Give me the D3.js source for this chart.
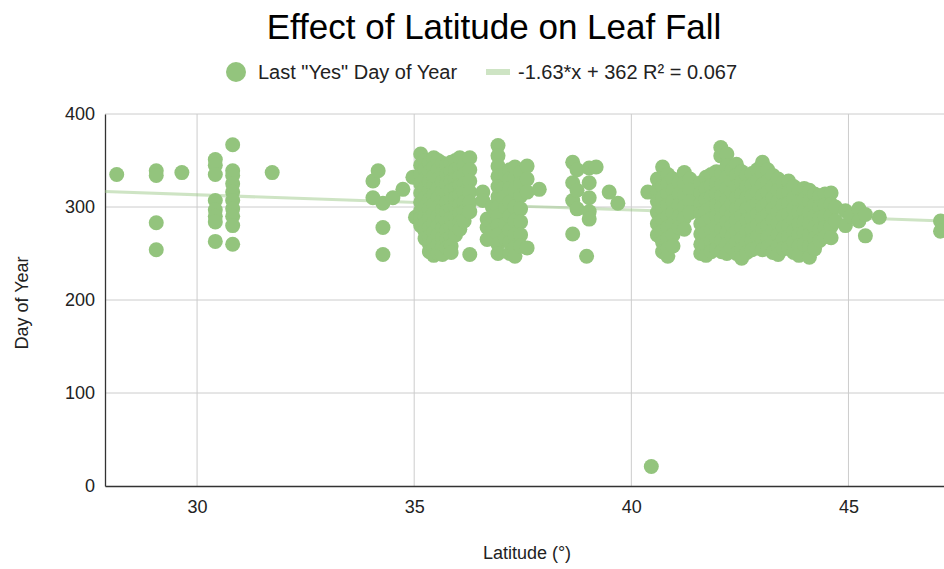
<!DOCTYPE html>
<html>
<head>
<meta charset="utf-8">
<script src="https://cdn.jsdelivr.net/npm/d3@7"></script>
<style>
  body { margin: 0; background: #fff; }
  svg { display: block; font-family: "Liberation Sans", Arial, sans-serif; }
</style>
</head>
<body>
<div id="chart"></div>
<script>
// each site: one latitude, several "last yes" days
const siteLat = [
  28.15, 29.06, 29.65, 30.42, 30.82, 31.73,
  34.05, 34.17, 34.28, 34.51, 34.74, 34.97, 35.03,
  35.15, 35.25, 35.35, 35.45, 35.55, 35.65, 35.75, 35.85, 35.95, 36.05, 36.15, 36.28,
  36.58, 36.68, 36.8, 36.93, 37.05, 37.1, 37.2, 37.32, 37.45, 37.6, 37.88,
  38.65, 38.75, 38.97, 39.03, 39.19, 39.49, 39.69,
  40.38, 40.46, 40.6, 40.72, 40.84, 40.96, 41.1, 41.22, 41.35,
  41.6, 41.72, 41.84, 41.96, 42.06, 42.08, 42.2, 42.32, 42.42, 42.54, 42.66, 42.78, 42.9,
  43.02, 43.14, 43.26, 43.38, 43.5, 43.62, 43.74, 43.86, 43.98, 44.1, 44.22, 44.34, 44.46, 44.6, 44.7,
  44.93, 45.05, 45.24, 45.39, 45.71, 47.12
]
const siteDays = [
  [335], [339, 334, 283, 254], [337], [351, 345, 335, 307, 297, 290, 284, 263],
  [367, 339, 334, 325, 316, 307, 298, 290, 280, 260], [337],
  [328, 310], [339], [304, 278, 249], [310], [319], [332], [289],
  [357, 345, 335, 325, 315, 305, 296, 288, 280],
  [350, 340, 330, 320, 310, 300, 290, 282, 274, 266],
  [348, 338, 328, 318, 308, 298, 288, 278, 268, 260, 252],
  [353, 343, 333, 323, 313, 303, 293, 283, 273, 263, 255, 248],
  [350, 340, 330, 320, 310, 300, 290, 280, 270, 260, 250],
  [347, 337, 327, 317, 307, 297, 287, 277, 267, 257, 249],
  [345, 335, 325, 315, 305, 295, 285, 275, 265, 256],
  [348, 338, 328, 318, 308, 298, 288, 278, 268, 258, 251],
  [350, 340, 330, 320, 310, 300, 290, 280, 270],
  [353, 343, 333, 323, 313, 303, 293, 283, 276],
  [345, 335, 325, 315, 305, 295, 285],
  [353, 340, 328, 316, 305, 295, 249],
  [316, 307], [287, 278, 265], [300, 290, 275],
  [366, 355, 344, 333, 322, 311, 300, 290, 280, 270, 260, 250],
  [320, 310], [335, 300, 282, 266],
  [340, 330, 320, 305, 290, 275, 262, 250],
  [343, 332, 318, 300, 285, 270, 256, 247],
  [337, 325, 312, 298, 284, 270, 258],
  [344, 330, 316, 256], [319],
  [348, 326, 307, 271], [340, 318, 298], [247], [342, 326, 310, 295, 287], [343], [316], [304],
  [316], [21],
  [330, 318, 306, 294, 282, 270],
  [343, 333, 322, 310, 298, 286, 274, 262, 252],
  [335, 325, 314, 302, 290, 278, 266, 255, 247],
  [330, 318, 306, 294, 282, 270, 258],
  [326, 314, 302, 290, 278],
  [337, 325, 313, 300, 288, 276],
  [330, 318, 306, 294],
  [326, 315, 304, 293, 282, 271, 260, 250],
  [332, 320, 308, 296, 284, 272, 260, 248],
  [335, 323, 311, 299, 287, 275, 263, 252],
  [338, 326, 314, 302, 290, 278, 266, 255],
  [364, 355],
  [336, 324, 312, 300, 288, 276, 264, 252],
  [357, 344, 332, 320, 308, 296, 284, 272, 260, 250],
  [340, 328, 316, 304, 292, 280, 268, 256],
  [346, 334, 322, 310, 298, 286, 274, 262, 250],
  [338, 326, 314, 302, 290, 278, 266, 254, 245],
  [334, 322, 310, 298, 286, 274, 262, 251],
  [336, 324, 312, 300, 288, 276, 264, 254],
  [340, 328, 316, 304, 292, 280, 268, 256],
  [348, 336, 324, 312, 300, 288, 276, 264, 254],
  [340, 328, 316, 304, 292, 280, 268, 257],
  [334, 322, 310, 298, 286, 274, 262, 251],
  [330, 318, 306, 294, 282, 270, 258, 249],
  [326, 314, 302, 290, 278, 266, 255],
  [328, 316, 304, 292, 280, 268, 256],
  [322, 310, 298, 286, 274, 262, 251],
  [318, 306, 294, 282, 270, 258, 248],
  [320, 308, 296, 284, 272, 260],
  [318, 306, 294, 282, 270, 258, 246],
  [314, 302, 290, 278, 266, 255],
  [312, 300, 288, 276, 264],
  [314, 302, 290, 278, 268],
  [315, 303, 291, 279, 267],
  [300, 285],
  [296, 280], [290], [298, 285], [292, 269], [289], [285, 274]
]
const xTicks = [30, 35, 40, 45]
const yTicks = [0, 100, 200, 300, 400]
// trendline from the legend
const slope = -1.63
const intercept = 362

const points = siteLat.flatMap((lat, i) => siteDays[i].map(day => ({ lat, day })))

const width = 944
const height = 569
const margin = { top: 114, right: 0, bottom: 83, left: 105 }
const green = '#93c47d'
const font = 'Liberation Sans, Arial, sans-serif'

const svg = d3.select('#chart').append('svg')
  .attr('width', width)
  .attr('height', height)

const xScale = d3.scaleLinear()
  .domain([27.88, 47.2])
  .range([margin.left, width - margin.right])

const yScale = d3.scaleLinear()
  .domain([0, 400])
  .range([height - margin.bottom, margin.top])

// gridlines
svg.append('g')
  .selectAll('line')
  .data(yTicks.slice(1))
  .enter().append('line')
  .attr('x1', margin.left).attr('x2', width)
  .attr('y1', d => yScale(d)).attr('y2', d => yScale(d))
  .attr('stroke', '#cccccc')

svg.append('g')
  .selectAll('line')
  .data(xTicks)
  .enter().append('line')
  .attr('x1', d => xScale(d)).attr('x2', d => xScale(d))
  .attr('y1', margin.top).attr('y2', yScale(0))
  .attr('stroke', '#cccccc')

// y axis
const yAxis = svg.append('g')
  .attr('transform', 'translate(' + margin.left + ',0)')
  .call(d3.axisLeft(yScale).tickValues(yTicks).tickSize(0).tickPadding(10))
yAxis.select('.domain').attr('stroke', '#333').attr('stroke-width', 1.3)
yAxis.selectAll('text').attr('font-size', 18).attr('fill', '#222').attr('font-family', font)

// x axis
const xAxis = svg.append('g')
  .attr('transform', 'translate(0,' + yScale(0) + ')')
  .call(d3.axisBottom(xScale).tickValues(xTicks).tickSize(0).tickPadding(14))
xAxis.select('.domain').attr('stroke', '#333').attr('stroke-width', 1.5)
xAxis.selectAll('text').attr('font-size', 18).attr('fill', '#222').attr('font-family', font)

// trendline
const lineX = xScale.domain()
svg.append('line')
  .attr('x1', xScale(lineX[0])).attr('y1', yScale(slope * lineX[0] + intercept))
  .attr('x2', xScale(lineX[1])).attr('y2', yScale(slope * lineX[1] + intercept))
  .attr('stroke', green)
  .attr('stroke-opacity', 0.45)
  .attr('stroke-width', 3)

// points
svg.append('g')
  .selectAll('circle')
  .data(points)
  .enter().append('circle')
  .attr('cx', d => xScale(d.lat))
  .attr('cy', d => yScale(d.day))
  .attr('r', 7.5)
  .attr('fill', green)

// title
svg.append('text')
  .attr('x', 494).attr('y', 39)
  .attr('text-anchor', 'middle')
  .attr('font-size', 35)
  .attr('fill', '#000')
  .text('Effect of Latitude on Leaf Fall')

// legend
const legend = svg.append('g').attr('font-size', 20).attr('fill', '#222')
legend.append('circle').attr('cx', 236).attr('cy', 72).attr('r', 10).attr('fill', green)
legend.append('text').attr('x', 258).attr('y', 79).text('Last "Yes" Day of Year')
legend.append('rect').attr('x', 486).attr('y', 69).attr('width', 24).attr('height', 6)
  .attr('fill', green).attr('fill-opacity', 0.45)
legend.append('text').attr('x', 518).attr('y', 79).text('-1.63*x + 362 R² = 0.067')

// axis titles
svg.append('text')
  .attr('transform', 'translate(28,' + 303 + ') rotate(-90)')
  .attr('text-anchor', 'middle')
  .attr('font-size', 18)
  .attr('fill', '#222')
  .text('Day of Year')

svg.append('text')
  .attr('x', 527).attr('y', 559)
  .attr('text-anchor', 'middle')
  .attr('font-size', 18)
  .attr('fill', '#222')
  .text('Latitude (°)')
</script>
</body>
</html>
